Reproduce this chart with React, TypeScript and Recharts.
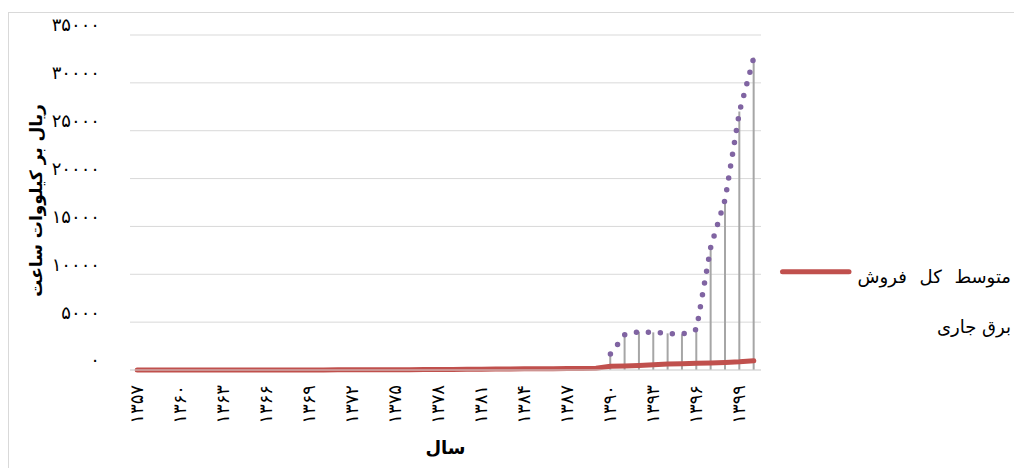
import { Bar, CartesianGrid, ComposedChart, Legend, Line, XAxis, YAxis } from 'recharts'

const years = [
  1357, 1358, 1359, 1360, 1361, 1362, 1363, 1364, 1365, 1366, 1367,
  1368, 1369, 1370, 1371, 1372, 1373, 1374, 1375, 1376, 1377, 1378,
  1379, 1380, 1381, 1382, 1383, 1384, 1385, 1386, 1387, 1388, 1389,
  1390, 1391, 1392, 1393, 1394, 1395, 1396, 1397, 1398, 1399, 1400,
]

// متوسط کل فروش برق جاری
const avgSale = [
  3, 3, 4, 4, 5, 5, 6, 6, 7, 7, 8,
  9, 10, 12, 14, 16, 18, 22, 28, 34, 42, 50,
  60, 72, 85, 98, 110, 118, 125, 132, 145, 160, 175,
  400, 430, 480, 560, 620, 660, 700, 730, 780, 850, 960,
]

// dotted series (no legend entry), starts at 1390
const costPrice: (number | null)[] = [
  null, null, null, null, null, null, null, null, null, null, null,
  null, null, null, null, null, null, null, null, null, null, null,
  null, null, null, null, null, null, null, null, null, null, null,
  1670, 3690, 4000, 3930, 3830, 3730, 4250, 12870, 17820, 27000, 32660,
]

const yTicks = [0, 5000, 10000, 15000, 20000, 25000, 30000, 35000]

const FA_DIGITS = ['۰', '۱', '۲', '۳', '۴', '۵', '۶', '۷', '۸', '۹']
const toFa = (n: number | string) => String(n).replace(/\d/g, (d) => FA_DIGITS[+d])

const data = years.map((y, i) => ({
  year: y,
  avg: avgSale[i],
  cost: costPrice[i],
  drop: Math.max(avgSale[i], costPrice[i] ?? 0),
}))

const FONT = '"DejaVu Sans", sans-serif'

function XTick({ x, y, payload }: any) {
  return (
    <text
      x={x}
      y={y}
      transform={`rotate(-90 ${x} ${y})`}
      textAnchor="end"
      dy="0.3em"
      fontSize={18}
      fontFamily={FONT}
      fill="#000"
    >
      {toFa(payload.value)}
    </text>
  )
}

function YTick({ x, y, payload }: any) {
  return (
    <text x={x} y={y - 9} textAnchor="end" dy="0.3em" fontSize={18} fontFamily={FONT} fill="#000">
      {toFa(payload.value)}
    </text>
  )
}

function LegendBox() {
  return (
    <div style={{ position: 'relative', width: 240, height: 100, fontFamily: FONT, color: '#000' }}>
      <svg width={80} height={28} style={{ position: 'absolute', left: 0, top: 0 }}>
        <line x1={5.5} y1={13.7} x2={72} y2={13.7} stroke="#c0504d" strokeWidth={5} strokeLinecap="round" />
      </svg>
      <div dir="rtl" style={{ position: 'absolute', right: 6, top: 8, fontSize: 18, lineHeight: '22px', wordSpacing: 7, whiteSpace: 'nowrap' }}>
        متوسط کل فروش
      </div>
      <div dir="rtl" style={{ position: 'absolute', right: 6, top: 58, fontSize: 18, lineHeight: '22px', whiteSpace: 'nowrap' }}>
        برق جاری
      </div>
    </div>
  )
}

export default function App() {
  return (
    <div
      style={{
        position: 'relative',
        top: 4,
        width: 1012,
        height: 470,
        border: '1px solid #d9d9d9',
        fontFamily: FONT,
        background: '#fff',
      }}
    >
      <ComposedChart width={1012} height={460} data={data} margin={{ top: 22, right: 260, left: 0, bottom: 8 }}>
        <CartesianGrid vertical={false} stroke="#d9d9d9" />
        <XAxis
          dataKey="year"
          interval={2}
          tick={<XTick />}
          tickLine={false}
          tickSize={0}
          tickMargin={15}
          axisLine={{ stroke: '#d9d9d9' }}
          height={95}
          label={{
            content: ({ viewBox }: any) => (
              <text
                x={viewBox.x + viewBox.width / 2}
                y={viewBox.y + 77}
                textAnchor="middle"
                dominantBaseline="central"
                fontSize={18}
                fontWeight="bold"
                fontFamily={FONT}
                fill="#000"
              >
                سال
              </text>
            ),
          }}
        />
        <YAxis
          domain={[0, 35000]}
          ticks={yTicks}
          width={121}
          axisLine={false}
          tickLine={false}
          tickSize={0}
          tickMargin={30}
          tick={<YTick />}
          label={{
            content: ({ viewBox }: any) => {
              const cx = viewBox.x + 27
              const cy = viewBox.y + viewBox.height / 2 - 2
              return (
                <text
                  x={cx}
                  y={cy}
                  transform={`rotate(-90 ${cx} ${cy})`}
                  textAnchor="middle"
                  dominantBaseline="central"
                  fontSize={17}
                  fontWeight="bold"
                  fontFamily={FONT}
                  fill="#000"
                >
                  ریال بر کیلووات ساعت
                </text>
              )
            },
          }}
        />
        <Line
          dataKey="avg"
          type="linear"
          stroke="#c0504d"
          strokeWidth={5}
          strokeLinecap="round"
          dot={false}
          isAnimationActive={false}
        />
        <Bar dataKey="drop" barSize={2} fill="#a6a6a6" minPointSize={2} isAnimationActive={false} />
        <Line
          dataKey="cost"
          type="linear"
          stroke="#8064a2"
          strokeWidth={5.5}
          strokeDasharray="0 12"
          strokeLinecap="round"
          dot={false}
          isAnimationActive={false}
        />
        <Legend
          layout="horizontal"
          verticalAlign="middle"
          content={() => <LegendBox />}
          wrapperStyle={{ left: 768, top: 245, width: 240, height: 100 }}
        />
      </ComposedChart>
    </div>
  )
}
